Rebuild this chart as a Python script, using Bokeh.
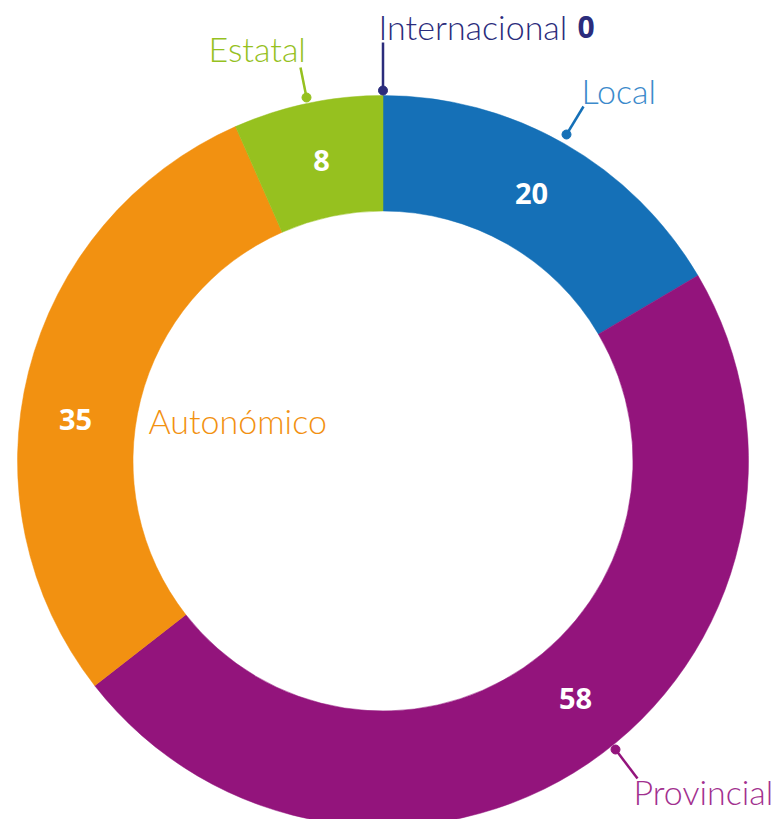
import numpy as np
from bokeh.plotting import figure
from bokeh.models import Range1d
from bokeh.core.properties import value
from bokeh.embed import file_html
from bokeh.resources import INLINE

# ---- data (clockwise from top) ----
categories = ["Internacional", "Local", "Provincial", "Autonómico", "Estatal"]
counts = [0, 20, 58, 35, 8]
colors = ["#2B2C7C", "#1570B7", "#93147C", "#F29111", "#96C11F"]
label_colors = ["#2B2C7C", "#3C8ACB", "#A2308F", "#F29111", "#96C11F"]

W, H = 773, 819
p = figure(width=W, height=H, output_backend="svg", toolbar_location=None,
           x_range=Range1d(0, W), y_range=Range1d(-H, 0),
           min_border=0, outline_line_color=None, background_fill_color="white",
           border_fill_color="white")
p.axis.visible = False
p.grid.visible = False

cx, cy = 382.5, -460.5
r_out, r_in = 365.5, 250

total = float(sum(counts))
cum = np.cumsum([0] + counts)
start = [np.pi / 2 - 2 * np.pi * cum[i] / total for i in range(len(counts))]
end = [np.pi / 2 - 2 * np.pi * cum[i + 1] / total for i in range(len(counts))]

for i, c in enumerate(counts):
    if c <= 0:
        continue
    p.annular_wedge(x=cx, y=cy, inner_radius=r_in, outer_radius=r_out,
                    start_angle=end[i], end_angle=start[i], direction="anticlock",
                    fill_color=colors[i], line_color=colors[i], line_width=0.5)

# value labels inside the ring
val_pos = {"Local": (531, 193), "Provincial": (575, 698), "Autonómico": (75, 419), "Estatal": (321, 160)}
for i, cat in enumerate(categories):
    if cat in val_pos:
        x, y = val_pos[cat]
        p.text(x=[x], y=[-y], text=[str(counts[i])], text_color="white",
               text_font=value("Open Sans"), text_font_style="bold",
               text_font_size="29px", text_align="center", text_baseline="middle")

# category labels (left edge, vertical centre)
lab = {
    "Internacional": (378, 26),
    "Local": (581, 90),
    "Provincial": (633, 791),
    "Autonómico": (148, 420),
    "Estatal": (208, 48),
}
for i, cat in enumerate(categories):
    x, y = lab[cat]
    p.text(x=[x], y=[-y], text=[cat], text_color=label_colors[i],
           text_font=value("Lato Light"), text_font_size="34px",
           text_align="left", text_baseline="middle")

# zero value for Internacional
p.text(x=[577], y=[-26], text=[str(counts[0])], text_color=colors[0],
       text_font=value("Open Sans"), text_font_style="bold", text_font_size="30px",
       text_align="left", text_baseline="middle")

# leader lines with dots
leaders = {
    "Internacional": ((382.5, 42), (382.5, 90)),
    "Estatal": ((300, 67), (306, 97)),
    "Local": ((583, 106), (566, 134)),
    "Provincial": ((637, 778), (615, 749)),
}
for i, cat in enumerate(categories):
    if cat in leaders:
        (x0, y0), (x1, y1) = leaders[cat]
        p.line(x=[x0, x1], y=[-y0, -y1], line_color=colors[i], line_width=2.5)
        p.scatter(x=[x1], y=[-y1], size=9, fill_color=colors[i], line_color=colors[i])

open("out.html", "w").write(file_html(p, INLINE))
